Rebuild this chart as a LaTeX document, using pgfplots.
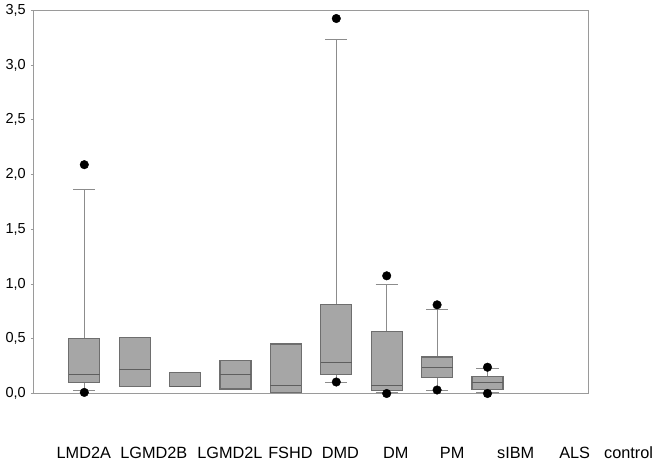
\documentclass[border=0pt]{standalone}
\usepackage{pgfplots}
\pgfplotsset{compat=1.18}
\usepgfplotslibrary{statistics}
\usepackage{fontspec}
\setmainfont{Liberation Sans}
\definecolor{boxfill}{HTML}{A6A6A6}
\definecolor{boxedge}{HTML}{6E6E6E}
\definecolor{medline}{HTML}{5E5E5E}
\definecolor{whisk}{HTML}{8C8C8C}
\definecolor{axisgray}{HTML}{9A9A9A}
\pgfplotsset{
  mybox/.style={
    boxplot/draw direction=y,
    boxplot prepared={#1},
    black, solid, mark=*, mark size=4.3pt,
    mark options={fill=black, draw=black},
    boxplot/every box/.style={draw=boxedge, fill=boxfill, line width=1.1pt},
    boxplot/every whisker/.style={draw=whisk, line width=0.9pt},
    boxplot/every median/.style={draw=medline, line width=1.1pt},
  }
}
\begin{document}
\begin{tikzpicture}
\useasboundingbox (-33.9pt,-70.5pt) rectangle (623.1pt,393.5pt);
\begin{axis}[
  scale only axis, width=554.4pt, height=383.2pt,
  xmin=0, xmax=11, ymin=0, ymax=3.5,
  xtick=\empty, ytick={0,0.5,1,1.5,2,2.5,3,3.5},
  ytick pos=left, tick align=outside, major tick length=3pt,
  axis line style={draw=axisgray, line width=0.8pt},
  tick style={draw=axisgray, line width=0.8pt},
  /pgf/number format/use comma, /pgf/number format/fixed,
  /pgf/number format/fixed zerofill, /pgf/number format/precision=1,
  /pgf/number format/assume math mode=true,
  ticklabel style={font=\fontsize{14.5}{17}\selectfont, inner sep=0pt},
  yticklabel shift=5pt,
  clip=false,
  boxplot/draw direction=y,
  boxplot/box extend=0.615, boxplot/whisker extend=0.44,
]
% LMD2A
\addplot[mybox={draw position=1, lower whisker=0.027, lower quartile=0.103, median=0.173, upper quartile=0.502, upper whisker=1.866}]
  table[row sep=\\, y index=0] {data\\ 2.09\\ 0.01\\};
% LGMD2B
\addplot[mybox={draw position=2, lower whisker=0.068, lower quartile=0.068, median=0.223, upper quartile=0.515, upper whisker=0.515}]
  coordinates {};
% LGMD2L
\addplot[mybox={draw position=3, lower whisker=0.066, lower quartile=0.066, median=0.066, upper quartile=0.194, upper whisker=0.194}]
  coordinates {};
% FSHD
\addplot[mybox={draw position=4, lower whisker=0.041, lower quartile=0.041, median=0.17, upper quartile=0.30, upper whisker=0.30}]
  coordinates {};
% DMD
\addplot[mybox={draw position=5, lower whisker=0.007, lower quartile=0.007, median=0.075, upper quartile=0.452, upper whisker=0.452}]
  coordinates {};
% group 6
\addplot[mybox={draw position=6, lower whisker=0.105, lower quartile=0.17, median=0.285, upper quartile=0.817, upper whisker=3.237}]
  table[row sep=\\, y index=0] {data\\ 3.425\\ 0.105\\};
% group 7
\addplot[mybox={draw position=7, lower whisker=0.012, lower quartile=0.03, median=0.075, upper quartile=0.565, upper whisker=1.0}]
  table[row sep=\\, y index=0] {data\\ 1.075\\ 0.0\\};
% group 8
\addplot[mybox={draw position=8, lower whisker=0.032, lower quartile=0.149, median=0.234, upper quartile=0.333, upper whisker=0.766}]
  table[row sep=\\, y index=0] {data\\ 0.81\\ 0.032\\};
% group 9
\addplot[mybox={draw position=9, lower whisker=0.014, lower quartile=0.038, median=0.10, upper quartile=0.153, upper whisker=0.23}]
  table[row sep=\\, y index=0] {data\\ 0.24\\ 0.0\\};
% category labels
\begin{scope}[every node/.style={anchor=base, font=\fontsize{16.3}{19}\selectfont, inner sep=0pt, yshift=-65.2pt}]
\node at (axis cs:0.99,0) {LMD2A};
\node at (axis cs:2.38,0) {LGMD2B};
\node at (axis cs:3.89,0) {LGMD2L};
\node at (axis cs:5.09,0) {FSHD};
\node at (axis cs:6.08,0) {DMD};
\node at (axis cs:7.18,0) {DM};
\node at (axis cs:8.30,0) {PM};
\node at (axis cs:9.56,0) {sIBM};
\node at (axis cs:10.73,0) {ALS};
\node at (axis cs:11.80,0) {control};
\end{scope}
\end{axis}
\end{tikzpicture}
\end{document}
